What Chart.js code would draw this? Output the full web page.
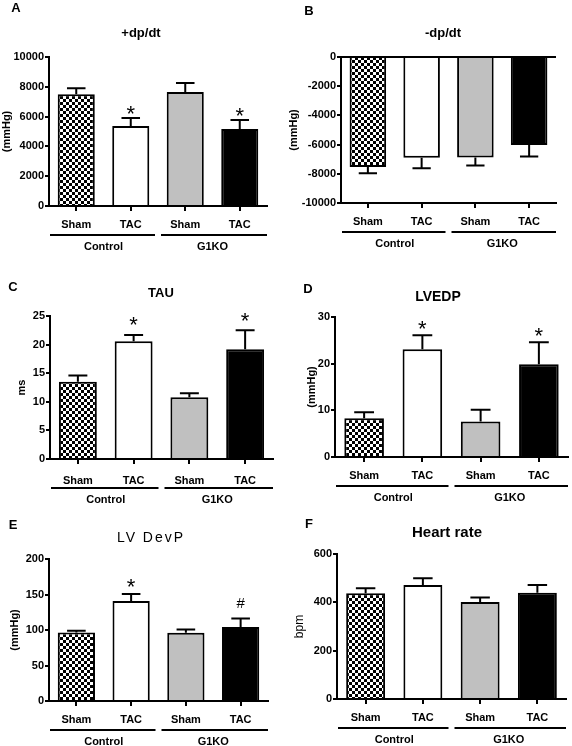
<!DOCTYPE html>
<html>
<head>
<meta charset="utf-8">
<script src="https://cdn.jsdelivr.net/npm/chart.js@4.4.0/dist/chart.umd.min.js"></script>
<style>
  html, body { margin: 0; padding: 0; background: #fff; }
  #fig { position: relative; width: 572px; height: 746px; overflow: hidden; }
</style>
</head>
<body>
<div id="fig"></div>
<script>
// Data
const categories = ["Sham", "TAC", "Sham", "TAC"];
const groups = ["Control", "G1KO"];

const dpdtPlus = [7500, 5370, 7650, 5170];
const dpdtPlusSem = [410, 540, 600, 600];
const dpdtPlusMarks = ["", "*", "", "*"];
const dpdtPlusTicks = [0, 2000, 4000, 6000, 8000, 10000];

const dpdtMinus = [-7540, -6900, -6880, -6020];
const dpdtMinusSem = [420, 720, 560, 800];
const dpdtMinusMarks = ["", "", "", ""];
const dpdtMinusTicks = [-10000, -8000, -6000, -4000, -2000, 0];

const tau = [13.5, 20.6, 10.8, 19.2];
const tauSem = [1.1, 1.1, 0.7, 3.3];
const tauMarks = ["", "*", "", "*"];
const tauTicks = [0, 5, 10, 15, 20, 25];

const lvedp = [8.3, 23.1, 7.6, 19.9];
const lvedpSem = [1.3, 3.0, 2.5, 4.7];
const lvedpMarks = ["", "*", "", "*"];
const lvedpTicks = [0, 10, 20, 30];

const lvDevP = [96.5, 140.7, 96, 104.4];
const lvDevPSem = [2.3, 9.9, 4.8, 11.9];
const lvDevPMarks = ["", "*", "", "#"];
const lvDevPTicks = [0, 50, 100, 150, 200];

const heartRate = [438, 472, 401, 440];
const heartRateSem = [20, 28, 19, 32];
const heartRateMarks = ["", "", "", ""];
const heartRateTicks = [0, 200, 400, 600];

const FAMILY = '"Liberation Sans", Arial, sans-serif';
const X_H = 40;

Chart.defaults.font.family = FAMILY;
Chart.defaults.color = "#000";

// small black/white check used for the Control Sham bars
function checkerPattern(ctx) {
  const t = document.createElement("canvas");
  t.width = t.height = 6;
  const c = t.getContext("2d");
  c.fillStyle = "#fff";
  c.fillRect(0, 0, 6, 6);
  c.fillStyle = "#000";
  c.fillRect(0, 0, 3, 3);
  c.fillRect(3, 3, 3, 3);
  return ctx.createPattern(t, "repeat");
}

// error bars, significance marks, panel letter, titles, group brackets
const decor = {
  id: "decor",
  afterDatasetsDraw(chart, args, o) {
    const ctx = chart.ctx;
    const y = chart.scales.y;
    const bars = chart.getDatasetMeta(0).data;
    ctx.save();
    ctx.strokeStyle = "#000";
    ctx.fillStyle = "#000";
    ctx.lineWidth = 2;
    bars.forEach((bar, i) => {
      const v = o.values[i];
      const end = y.getPixelForValue(v + Math.sign(v) * o.sem[i]);
      const half = bar.width / 4;
      ctx.beginPath();
      ctx.moveTo(bar.x, bar.y);
      ctx.lineTo(bar.x, end);
      ctx.moveTo(bar.x - half, end);
      ctx.lineTo(bar.x + half, end);
      ctx.stroke();

      const m = o.marks[i];
      if (m) {
        ctx.textAlign = "center";
        ctx.textBaseline = "alphabetic";
        if (m === "*") {
          ctx.font = "22px " + FAMILY;
          ctx.fillText(m, bar.x, end - o.markGap + 0.57 * 22);
        } else {
          ctx.font = "15px " + FAMILY;
          ctx.fillText(m, bar.x, end - o.markGap - 3 + 0.35 * 15);
        }
      }
    });
    ctx.restore();
  },
  afterDraw(chart, args, o) {
    const ctx = chart.ctx;
    const a = chart.chartArea;
    const bx = o.box[0], by = o.box[1];
    ctx.save();
    ctx.fillStyle = "#000";
    ctx.strokeStyle = "#000";
    ctx.textAlign = "center";
    ctx.textBaseline = "middle";

    ctx.font = "bold 13px " + FAMILY;
    ctx.fillText(o.letter, o.letterPos[0] - bx, o.letterPos[1] - by);

    ctx.font = o.titleFont;
    ctx.letterSpacing = o.titleSpacing || "0px";
    ctx.fillText(o.title, o.titlePos[0] - bx, o.titlePos[1] - by);
    ctx.letterSpacing = "0px";

    ctx.save();
    ctx.translate(o.yTitleX - bx, (a.top + a.bottom) / 2);
    ctx.rotate(-Math.PI / 2);
    ctx.font = o.yTitleFont;
    ctx.fillText(o.yTitle, 0, 0);
    ctx.restore();

    const mid = (a.left + a.right) / 2;
    const ly = a.bottom + 29;
    ctx.lineWidth = 2;
    ctx.beginPath();
    ctx.moveTo(a.left + 1, ly);
    ctx.lineTo(mid - 3, ly);
    ctx.moveTo(mid + 3, ly);
    ctx.lineTo(a.right, ly);
    ctx.stroke();
    ctx.font = "bold 11px " + FAMILY;
    ctx.fillText(groups[0], (a.left + mid) / 2, a.bottom + 41);
    ctx.fillText(groups[1], (mid + a.right) / 2, a.bottom + 41);
    ctx.restore();
  }
};

const panels = [
  { letter: "A", box: [0, 0, 286, 250], area: [49, 57, 267, 206],
    values: dpdtPlus, sem: dpdtPlusSem, marks: dpdtPlusMarks, ticks: dpdtPlusTicks,
    title: "+dp/dt", titleFont: "bold 13px " + FAMILY, titlePos: [141, 33], letterPos: [16, 8],
    yTitle: "(mmHg)", yTitleFont: "bold 11px " + FAMILY, yTitleX: 7, markGap: 9.5, xPad: 7 },
  { letter: "B", box: [286, 0, 286, 250], area: [341, 57, 556, 203],
    values: dpdtMinus, sem: dpdtMinusSem, marks: dpdtMinusMarks, ticks: dpdtMinusTicks, zeroLine: true,
    title: "-dp/dt", titleFont: "bold 13px " + FAMILY, titlePos: [443, 33], letterPos: [309, 11],
    yTitle: "(mmHg)", yTitleFont: "bold 11px " + FAMILY, yTitleX: 294, markGap: 10, xPad: 7 },
  { letter: "C", box: [0, 255, 286, 255], area: [50, 316, 273, 459],
    values: tau, sem: tauSem, marks: tauMarks, ticks: tauTicks,
    title: "TAU", titleFont: "bold 13px " + FAMILY, titlePos: [161, 293], letterPos: [13, 287],
    yTitle: "ms", yTitleFont: "bold 11px " + FAMILY, yTitleX: 22, markGap: 15, xPad: 10 },
  { letter: "D", box: [286, 255, 286, 255], area: [335, 317, 568, 457],
    values: lvedp, sem: lvedpSem, marks: lvedpMarks, ticks: lvedpTicks,
    title: "LVEDP", titleFont: "bold 14px " + FAMILY, titlePos: [438, 297], letterPos: [308, 289],
    yTitle: "(mmHg)", yTitleFont: "bold 11px " + FAMILY, yTitleX: 312, markGap: 11.5, xPad: 7 },
  { letter: "E", box: [0, 505, 286, 241], area: [49, 559, 268, 701],
    values: lvDevP, sem: lvDevPSem, marks: lvDevPMarks, ticks: lvDevPTicks,
    title: "LV DevP", titleFont: "14px " + FAMILY, titleSpacing: "2px", titlePos: [151, 538], letterPos: [13, 525],
    yTitle: "(mmHg)", yTitleFont: "bold 11px " + FAMILY, yTitleX: 15, markGap: 13, xPad: 7 },
  { letter: "F", box: [286, 505, 286, 241], area: [337, 554, 566, 699],
    values: heartRate, sem: heartRateSem, marks: heartRateMarks, ticks: heartRateTicks,
    title: "Heart rate", titleFont: "bold 15px " + FAMILY, titlePos: [447, 533], letterPos: [309, 524],
    yTitle: "bpm", yTitleFont: "12px " + FAMILY, yTitleX: 300, markGap: 10, xPad: 7 }
];

const fig = document.getElementById("fig");

panels.forEach(function(p) {
  const [bx, by, bw, bh] = p.box;
  const [al, at, ar, ab] = p.area;
  const cv = document.createElement("canvas");
  cv.width = bw;
  cv.height = bh;
  cv.style.cssText = "position:absolute;left:" + bx + "px;top:" + by + "px;width:" + bw + "px;height:" + bh + "px";
  fig.appendChild(cv);
  const ctx = cv.getContext("2d");

  new Chart(ctx, {
    type: "bar",
    data: {
      labels: categories,
      datasets: [{
        data: p.values,
        backgroundColor: [checkerPattern(ctx), "#ffffff", "#c0c0c0", "#000000"],
        borderColor: "#000",
        borderWidth: 2,
        borderSkipped: "start",
        barPercentage: 0.68,
        categoryPercentage: 1
      }]
    },
    options: {
      responsive: false,
      animation: false,
      events: [],
      layout: {
        padding: { left: 0, top: at - by, right: bx + bw - ar, bottom: bh - (ab - by) - X_H }
      },
      plugins: {
        legend: { display: false },
        tooltip: { enabled: false },
        decor: p
      },
      scales: {
        x: {
          z: 1,
          grid: { display: true, drawOnChartArea: false, offset: false, tickLength: 5, tickColor: "#000", lineWidth: 2 },
          border: { color: "#000", width: 2 },
          ticks: { font: { weight: "bold", size: 11 }, color: "#000", padding: p.xPad },
          afterFit: function(s) { s.height = X_H; }
        },
        y: {
          z: 1,
          min: p.ticks[0],
          max: p.ticks[p.ticks.length - 1],
          afterBuildTicks: function(s) { s.ticks = p.ticks.map(v => ({ value: v })); },
          grid: {
            drawOnChartArea: !!p.zeroLine,
            color: c => (c.tick && c.tick.value === 0) ? "#000" : "rgba(0,0,0,0)",
            tickColor: "#000",
            tickLength: 4,
            lineWidth: 2
          },
          border: { color: "#000", width: 2 },
          ticks: { font: { weight: "bold", size: 11 }, color: "#000", padding: 1, callback: v => String(v) },
          afterFit: function(s) { s.width = al - bx; }
        }
      }
    },
    plugins: [decor]
  });
});
</script>
</body>
</html>
